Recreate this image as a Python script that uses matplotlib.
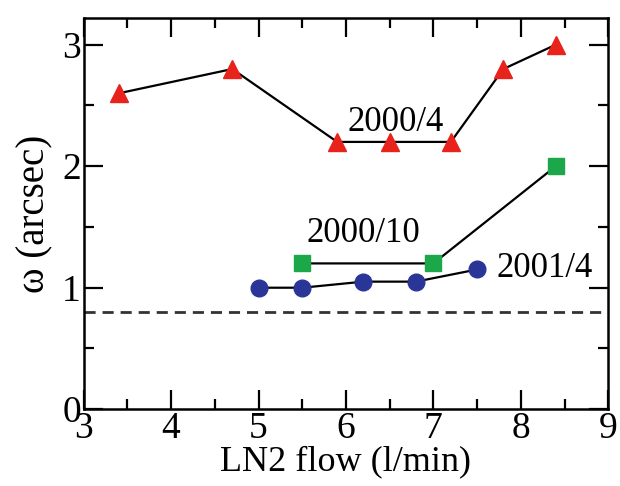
import matplotlib
matplotlib.use("Agg")
import matplotlib.pyplot as plt
from matplotlib.ticker import MultipleLocator

plt.rcParams['font.family'] = ['Liberation Serif', 'DejaVu Serif']

# 2000/4 (red triangles)
x_0004 = [3.4, 4.7, 5.9, 6.5, 7.2, 7.8, 8.4]
y_0004 = [2.6, 2.8, 2.2, 2.2, 2.2, 2.8, 3.0]
# 2000/10 (green squares)
x_0010 = [5.5, 7.0, 8.4]
y_0010 = [1.2, 1.2, 2.0]
# 2001/4 (blue circles)
x_0104 = [5.0, 5.5, 6.2, 6.8, 7.5]
y_0104 = [1.0, 1.0, 1.05, 1.05, 1.15]
limit = 0.8

fig = plt.figure(figsize=(6.2, 4.86), dpi=100)
ax = fig.add_axes([0.135, 0.158, 0.846, 0.805])

ax.axhline(limit, color='#333333', lw=2, ls=(0, (4, 2.5)))
ax.plot(x_0004, y_0004, '-', color='black', lw=1.6, marker='^', ms=13,
        mfc='#e8231b', mec='#e8231b', zorder=3)
ax.plot(x_0010, y_0010, '-', color='black', lw=1.6, marker='s', ms=11,
        mfc='#1ca84a', mec='#1ca84a', zorder=3)
ax.plot(x_0104, y_0104, '-', color='black', lw=1.6, marker='o', ms=12,
        mfc='#2a3598', mec='#2a3598', zorder=3)

ax.text(6.57, 2.36, '2000/4', fontsize=25, ha='center', va='center')
ax.text(6.2, 1.45, '2000/10', fontsize=25, ha='center', va='center')
ax.text(8.27, 1.16, '2001/4', fontsize=25, ha='center', va='center')

ax.set_xlim(3, 9)
ax.set_ylim(0, 3.22)
ax.xaxis.set_major_locator(MultipleLocator(1))
ax.xaxis.set_minor_locator(MultipleLocator(0.5))
ax.yaxis.set_major_locator(MultipleLocator(1))
ax.yaxis.set_minor_locator(MultipleLocator(0.5))
ax.tick_params(which='both', direction='in', top=True, right=True, width=1.6,
               labelsize=27, pad=2)
ax.tick_params(which='major', length=14)
ax.tick_params(which='minor', length=7)
for s in ax.spines.values():
    s.set_linewidth(1.8)

ax.set_xlabel('LN2 flow (l/min)', fontsize=26, labelpad=-1)
ax.set_ylabel('ω (arcsec)', fontsize=28, labelpad=6)

fig.savefig('out.png', dpi=100)
